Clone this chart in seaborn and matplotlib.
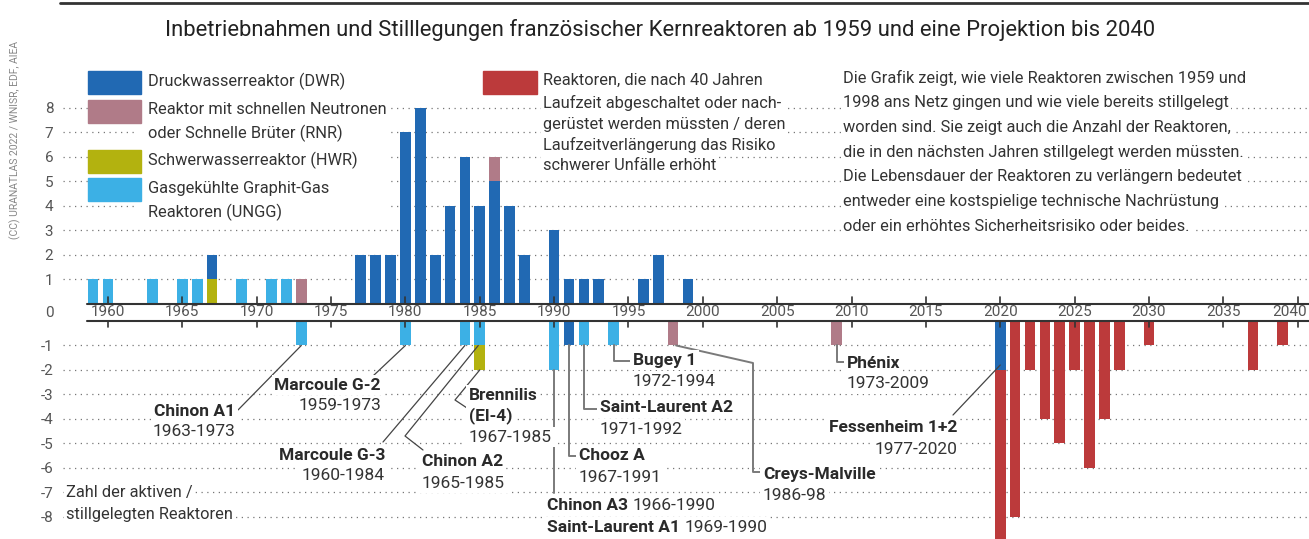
import pandas as pd
import matplotlib.pyplot as plt
from matplotlib.lines import Line2D
from matplotlib.patches import Rectangle
import seaborn as sns

# Inbetriebnahmen (positiv)
ungg_on_years = [1959, 1960, 1963, 1965, 1966, 1969, 1971, 1972]
ungg_on = [1, 1, 1, 1, 1, 1, 1, 1]
hwr_on_years = [1967]
hwr_on = [1]
dwr_on_years = [1967, 1977, 1978, 1979, 1980, 1981, 1982, 1983, 1984, 1985,
                1986, 1987, 1988, 1990, 1991, 1992, 1993, 1996, 1997, 1999]
dwr_on = [1, 2, 2, 2, 7, 8, 2, 4, 6, 4, 5, 4, 2, 3, 1, 1, 1, 1, 2, 1]
rnr_on_years = [1973, 1986]
rnr_on = [1, 1]

# Stilllegungen (negativ) + Projektion
ungg_off_years = [1973, 1980, 1984, 1985, 1990, 1992, 1994]
ungg_off = [1, 1, 1, 1, 2, 1, 1]
hwr_off_years = [1985]
hwr_off = [1]
dwr_off_years = [1991, 2020]
dwr_off = [1, 2]
rnr_off_years = [1998, 2009]
rnr_off = [1, 1]
proj_years = [2020, 2021, 2022, 2023, 2024, 2025, 2026, 2027, 2028, 2030, 2037, 2039]
proj_off = [7, 8, 2, 4, 5, 2, 6, 4, 2, 1, 2, 1]

tick_years = list(range(1960, 2041, 5))
pos_ticks = [1, 2, 3, 4, 5, 6, 7, 8]

farben = {'DWR': '#2169b3', 'RNR': '#b07b88', 'HWR': '#b3b20f',
          'UNGG': '#3cb0e5', 'PROJ': '#bc3a3b'}
stack_order = ['UNGG', 'HWR', 'DWR', 'RNR', 'PROJ']
draw_order = stack_order[::-1]


def stacked(series):
    rows = [(y, t, v) for t, (ys, vs) in series.items() for y, v in zip(ys, vs)]
    df = pd.DataFrame(rows, columns=['jahr', 'typ', 'anzahl'])
    df['rang'] = df['typ'].map(stack_order.index)
    df = df.sort_values(['jahr', 'rang'])
    df['kumuliert'] = df.groupby('jahr')['anzahl'].cumsum()
    return df


df_on = stacked({'UNGG': (ungg_on_years, ungg_on), 'HWR': (hwr_on_years, hwr_on),
                 'DWR': (dwr_on_years, dwr_on), 'RNR': (rnr_on_years, rnr_on)})
df_off = stacked({'UNGG': (ungg_off_years, ungg_off), 'HWR': (hwr_off_years, hwr_off),
                  'DWR': (dwr_off_years, dwr_off), 'RNR': (rnr_off_years, rnr_off),
                  'PROJ': (proj_years, proj_off)})
df_off['kumuliert'] = -df_off['kumuliert']

sns.set_style("white")
plt.rcParams['font.family'] = ['Roboto', 'DejaVu Sans']

W, H = 1309, 539
PX_YR = 14.871
X1960 = 108
Y0_TOP = 303.5
Y0_BOT = 321
UNIT = 24.47
LEFT = 63


def dx(px):
    return 1960 + (px - X1960) / PX_YR


def dy(py):
    return -(py - Y0_BOT) / UNIT


fig = plt.figure(figsize=(W / 100, H / 100), dpi=100)
ax_hi = fig.add_axes([LEFT / W, (H - Y0_TOP) / H, (W - LEFT) / W, Y0_TOP / H])
ax_lo = fig.add_axes([LEFT / W, 0, (W - LEFT) / W, (H - Y0_BOT) / H])

for ax, d in [(ax_hi, df_on), (ax_lo, df_off)]:
    sns.barplot(data=d, x='jahr', y='kumuliert', hue='typ', hue_order=draw_order,
                palette=farben, native_scale=True, dodge=False, width=0.72,
                saturation=1, errorbar=None, legend=False, linewidth=0, ax=ax)
    ax.set_xlim(dx(LEFT), dx(W))
    ax.set_xlabel('')
    ax.set_ylabel('')
    ax.set_xticks([])
    sns.despine(ax=ax, left=True, bottom=True)
    ax.yaxis.grid(True, linestyle=(0, (1, 3.6)), color='#777777', lw=0.9)
    ax.set_axisbelow(True)
    ax.tick_params(axis='y', length=0, pad=7, labelsize=11, labelcolor='#555555')

ax_hi.set_ylim(0, Y0_TOP / UNIT)
ax_hi.set_yticks(pos_ticks, [str(v) for v in pos_ticks])
ax_lo.set_ylim(-(H - Y0_BOT) / UNIT, 0)
ax_lo.set_yticks([-v for v in pos_ticks], ['-' + str(v) for v in pos_ticks])
ax_lo.patch.set_alpha(0)

# Zeitachse als Band zwischen den beiden Teilen
for ax, sgn in [(ax_hi, 1), (ax_lo, -1)]:
    ax.plot([dx(87), dx(W)], [0, 0], color='#333333', lw=1.5, clip_on=False, zorder=5)
    for yr in tick_years:
        ax.plot([yr, yr], [0, sgn * 0.26], color='#333333', lw=1.2, clip_on=False, zorder=5)
for yr in tick_years:
    if yr == tick_years[-1]:
        ax_hi.text(dx(1307), (Y0_TOP - 311.5) / UNIT, str(yr), ha='right', va='center',
                   fontsize=11, color='#555555', clip_on=False)
    else:
        ax_hi.text(yr, (Y0_TOP - 311.5) / UNIT, str(yr), ha='center', va='center',
                   fontsize=11, color='#555555', clip_on=False)
fig.text(54 / W, 1 - 313 / H, '0', ha='right', va='center', fontsize=11, color='#555555')


def ftxt(x, y, s, **kw):
    return fig.text(x / W, 1 - y / H, s, **kw)


fig.add_artist(Line2D([60 / W, 1], [1 - 2.5 / H, 1 - 2.5 / H], color='#333333', lw=2))
ftxt(660, 30, 'Inbetriebnahmen und Stilllegungen französischer Kernreaktoren ab 1959 '
     'und eine Projektion bis 2040', ha='center', va='center', fontsize=15.8, color='#222222')
ftxt(15, 140, '(CC) URANATLAS 2022 / WNISR, EDF, AIEA', rotation=90, ha='center',
     va='center', fontsize=7.5, color='#888888')

box = dict(boxstyle='square,pad=0.15', fc='white', ec='none')
txt_kw = dict(ha='left', va='center', fontsize=11.8, color='#333333')

# Legende
legende = [('DWR', 71), ('RNR', 100), ('HWR', 150), ('UNGG', 178)]
for typ, top in legende:
    fig.add_artist(Rectangle((88 / W, 1 - (top + 23) / H), 53 / W, 23 / H,
                             color=farben[typ], zorder=3))
fig.add_artist(Rectangle((138 / W, 1 - 215 / H), 250 / W, 150 / H, color='white', zorder=2))
leg_lines = [('Druckwasserreaktor (DWR)', 81), ('Reaktor mit schnellen Neutronen', 110),
             ('oder Schnelle Brüter (RNR)', 133), ('Schwerwasserreaktor (HWR)', 160),
             ('Gasgekühlte Graphit-Gas', 189), ('Reaktoren (UNGG)', 212)]
for s, y in leg_lines:
    ftxt(148, y, s, zorder=4, **txt_kw)

fig.add_artist(Rectangle((483 / W, 1 - 94 / H), 54 / W, 23 / H, color=farben['PROJ'], zorder=3))
red_lines = [('Reaktoren, die nach 40 Jahren', 80), ('Laufzeit abgeschaltet oder nach-', 103),
             ('gerüstet werden müssten / deren', 124), ('Laufzeitverlängerung das Risiko', 145),
             ('schwerer Unfälle erhöht', 166)]
for s, y in red_lines:
    ftxt(543, y, s, bbox=box, zorder=4, **txt_kw)

info_lines = ['Die Grafik zeigt, wie viele Reaktoren zwischen 1959 und',
              '1998 ans Netz gingen und wie viele bereits stillgelegt',
              'worden sind. Sie zeigt auch die Anzahl der Reaktoren,',
              'die in den nächsten Jahren stillgelegt werden müssten.',
              'Die Lebensdauer der Reaktoren zu verlängern bedeutet',
              'entweder eine kostspielige technische Nachrüstung',
              'oder ein erhöhtes Sicherheitsrisiko oder beides.']
for i, s in enumerate(info_lines):
    ftxt(843, 78 + i * 24.7, s, bbox=box, zorder=4, **txt_kw)

ftxt(66, 492, 'Zahl der aktiven /', bbox=box, **txt_kw)
ftxt(66, 515, 'stillgelegten Reaktoren', bbox=box, **txt_kw)

# Beschriftungen der stillgelegten Reaktoren
name_kw = dict(fontsize=12.5, fontweight='bold', color='#2a2a2a', va='center', bbox=box, zorder=4)
year_kw = dict(fontsize=12.5, color='#333333', va='center', bbox=box, zorder=4)
labels = [
    (['Chinon A1'], '1963-1973', 235, 411, 'right'),
    (['Marcoule G-2'], '1959-1973', 381, 385, 'right'),
    (['Marcoule G-3'], '1960-1984', 385, 455, 'right'),
    (['Chinon A2'], '1965-1985', 422, 462, 'left'),
    (['Brennilis', '(El-4)'], '1967-1985', 469, 395, 'left'),
    (['Chooz A'], '1967-1991', 579, 456, 'left'),
    (['Saint-Laurent A2'], '1971-1992', 600, 408, 'left'),
    (['Bugey 1'], '1972-1994', 633, 360, 'left'),
    (['Creys-Malville'], '1986-98', 763, 474, 'left'),
    (['Phénix'], '1973-2009', 847, 363, 'left'),
    (['Fessenheim 1+2'], '1977-2020', 957, 428, 'right'),
]
for names, years, x, y, ha in labels:
    for k, n in enumerate(names):
        ftxt(x, y + 21 * k, n, ha=ha, **name_kw)
    ftxt(x, y + 21 * len(names), years, ha=ha, **year_kw)

renderer = fig.canvas.get_renderer()
for n, years, y in [('Chinon A3', '1966-1990', 505), ('Saint-Laurent A1', '1969-1990', 527)]:
    t = ftxt(547, y, n, ha='left', **name_kw)
    bb = t.get_window_extent(renderer=renderer)
    fig.text((bb.x1 + 5) / W, 1 - y / H, years, ha='left', **year_kw)

# Verbindungslinien
diag = dict(color='#444444', lw=0.9, clip_on=False, zorder=3)
elbow = dict(color='#7a7a7a', lw=1.4, clip_on=False, zorder=3)
ax_lo.plot([1973, dx(238)], [-1, dy(410)], **diag)
ax_lo.plot([1980, dx(373)], [-1, dy(376)], **diag)
ax_lo.plot([1984, dx(383)], [-1, dy(442)], **diag)
ax_lo.plot([1984.9, dx(405), dx(423)], [-1, dy(436), dy(450)], **diag)
ax_lo.plot([1985, dx(455), dx(470)], [-2, dy(400), dy(410)], **diag)
ax_lo.plot([1990, 1990], [-2, dy(493)], **elbow)
ax_lo.plot([1991, 1991, dx(577)], [-1, dy(456), dy(456)], **elbow)
ax_lo.plot([1992, 1992, dx(598)], [-1, dy(409), dy(409)], **elbow)
ax_lo.plot([1994, 1994, dx(630)], [-1, dy(361), dy(361)], **elbow)
ax_lo.plot([1998.2, dx(753), dx(753), dx(762)], [-1, dy(363), dy(472), dy(472)], **elbow)
ax_lo.plot([2009, 2009, dx(845)], [-1, dy(362), dy(362)], **elbow)
ax_lo.plot([2020, dx(953)], [dy(365), dy(415)], **diag)

fig.savefig('out.png', dpi=100)
plt.close()
